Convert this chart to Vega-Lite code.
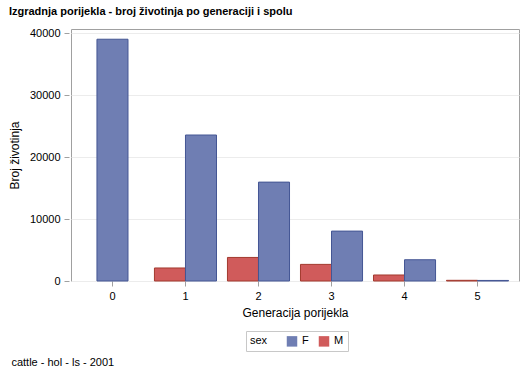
{
  "$schema": "https://vega.github.io/schema/vega-lite/v6.json",
  "background": "white",
  "padding": {"left": 7, "top": 5, "right": 5, "bottom": 5},
  "title": {"text": "Izgradnja porijekla - broj životinja po generaciji i spolu", "anchor": "start", "frame": "bounds", "font": "Liberation Sans", "fontSize": 11, "fontWeight": "bold", "color": "#000000", "offset": 10, "dx": 1},
  "config": {"font": "Liberation Sans", "view": {"stroke": "#a0a0a0"}},
  "resolve": {"legend": {"color": "independent"}},
  "datasets": {
    "bars": [
      {"gen": "0", "sex": "F", "count": 39000},
      {"gen": "1", "sex": "M", "count": 2100},
      {"gen": "1", "sex": "F", "count": 23550},
      {"gen": "2", "sex": "M", "count": 3800},
      {"gen": "2", "sex": "F", "count": 15950},
      {"gen": "3", "sex": "M", "count": 2680},
      {"gen": "3", "sex": "F", "count": 8050},
      {"gen": "4", "sex": "M", "count": 970},
      {"gen": "4", "sex": "F", "count": 3430},
      {"gen": "5", "sex": "M", "count": 110},
      {"gen": "5", "sex": "F", "count": 90}
    ]
  },
  "vconcat": [
    {
      "width": 448,
      "height": 252,
      "title": {"text": "cattle - hol - ls - 2001", "orient": "bottom", "anchor": "start", "frame": "bounds", "fontSize": 11, "fontWeight": "normal", "color": "#000000", "offset": 5, "dx": 3},
      "data": {"name": "bars"},
      "encoding": {
        "x": {"field": "gen", "type": "nominal", "scale": {"domain": ["0","1","2","3","4","5"], "paddingInner": 0.15, "paddingOuter": 0.143},
          "axis": {"title": "Generacija porijekla", "labelAngle": 0, "labelFontSize": 11, "titleFontSize": 12, "titleFontWeight": "normal", "labelColor": "#000000", "titleColor": "#000000", "domain": false, "tickColor": "#a0a0a0", "tickSize": 5, "labelPadding": 4, "titlePadding": 6}},
        "y": {"field": "count", "type": "quantitative", "scale": {"domain": [0, 40650], "nice": false},
          "axis": {"title": "Broj životinja", "values": [0, 10000, 20000, 30000, 40000], "format": "d", "labelFontSize": 11, "titleFontSize": 12, "titleFontWeight": "normal", "labelColor": "#000000", "titleColor": "#000000", "domain": false, "offset": 2, "tickColor": "#a0a0a0", "tickSize": 5, "labelPadding": 4, "titlePadding": 8, "gridColor": "#ececec", "grid": true}},
        "color": {"field": "sex", "type": "nominal", "scale": {"domain": ["F", "M"], "range": ["#6f7eb3", "#d05b5b"]},
          "legend": {"orient": "none", "legendX": 175, "legendY": 302, "direction": "horizontal", "title": "sex", "titleOrient": "left", "titleFontWeight": "normal", "titleFontSize": 11, "labelFontSize": 11, "symbolType": "square", "symbolSize": 110, "symbolStrokeWidth": 1, "strokeColor": "#c8c8c8", "padding": 4, "columnPadding": 9, "titlePadding": 18, "labelOffset": 4, "labelColor": "#000000", "titleColor": "#000000"}},
        "stroke": {"field": "sex", "type": "nominal", "scale": {"domain": ["F", "M"], "range": ["#445694", "#a23a2e"]}, "legend": null}
      },
      "layer": [
        {
          "transform": [{"filter": "datum.gen != '0'"}],
          "mark": {"type": "bar", "strokeWidth": 1},
          "encoding": {
            "xOffset": {"field": "sex", "type": "nominal", "scale": {"domain": ["M", "F"], "paddingInner": 0, "paddingOuter": 0}}
          }
        },
        {
          "transform": [{"filter": "datum.gen == '0'"}],
          "mark": {"type": "bar", "strokeWidth": 1, "width": {"band": 0.5}},
          "encoding": {}
        }
      ]
    }
  ]
}
